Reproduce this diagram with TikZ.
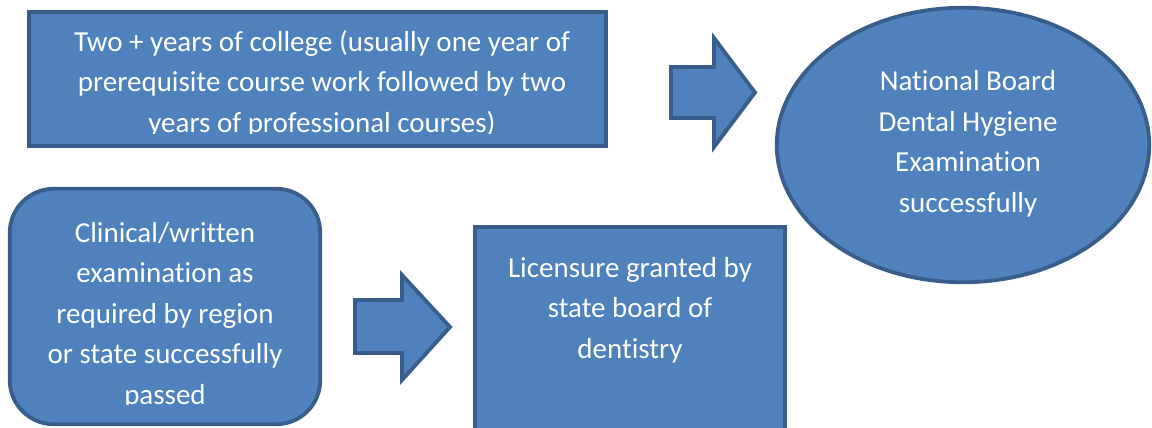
\documentclass[tikz,border=0pt]{standalone}
\usepackage{fontspec}
\setmainfont{Carlito}[Ligatures={NoCommon}]
\usetikzlibrary{shapes.geometric}
\definecolor{boxfill}{HTML}{4F81BD}
\definecolor{boxline}{HTML}{385D8A}

\begin{document}
\begin{tikzpicture}[x=0.5pt, y=-0.5pt,
  box/.style={draw=boxline, fill=boxfill, line width=1.9pt, inner sep=0pt},
  boxtext/.style={text=white, align=center, inner sep=0pt, anchor=base,
                  font=\fontsize{14.5}{20.2}\selectfont}]

\useasboundingbox (0,0) rectangle (1152,428);
\clip (0,0) rectangle (1152,428);

\node[box, minimum width=288.75pt, minimum height=67.25pt] (college) at (317.5,79) {};
\node[box, ellipse, minimum width=186.25pt, minimum height=137.25pt] (board) at (963,145) {};
\node[box, rounded corners=22pt, minimum width=155.25pt, minimum height=117.75pt] (clinical) at (165,306.5) {};
\node[box, minimum width=155.25pt, minimum height=116.25pt] (licensure) at (630,343) {};

\draw[box] (671,67) -- (714,67) -- (714,38) -- (755,92.5) -- (714,147) -- (714,118) -- (671,118) -- cycle;
\draw[box] (355,300) -- (402,300) -- (402,275) -- (450,327) -- (402,380) -- (402,353) -- (355,353) -- cycle;

\begin{scope}
\clip (27,10) rectangle (608,133.5);
\node[boxtext] (collegetext) at (322,132)
  {Two + years of college (usually one year of\\
   prerequisite course work followed by two\\
   years of professional courses)};
\end{scope}

\node[boxtext] (boardtext) at (968,212)
  {National Board\\ Dental Hygiene\\ Examination\\ successfully};

\begin{scope}
\clip (8,187) rectangle (322,404.5);
\node[boxtext] (clinicaltext) at (165,404)
  {Clinical/written\\ examination as\\ required by region\\ or state successfully\\ passed};
\end{scope}

\node[boxtext] (licensuretext) at (630,358)
  {Licensure granted by\\ state board of\\ dentistry};

\end{tikzpicture}
\end{document}
